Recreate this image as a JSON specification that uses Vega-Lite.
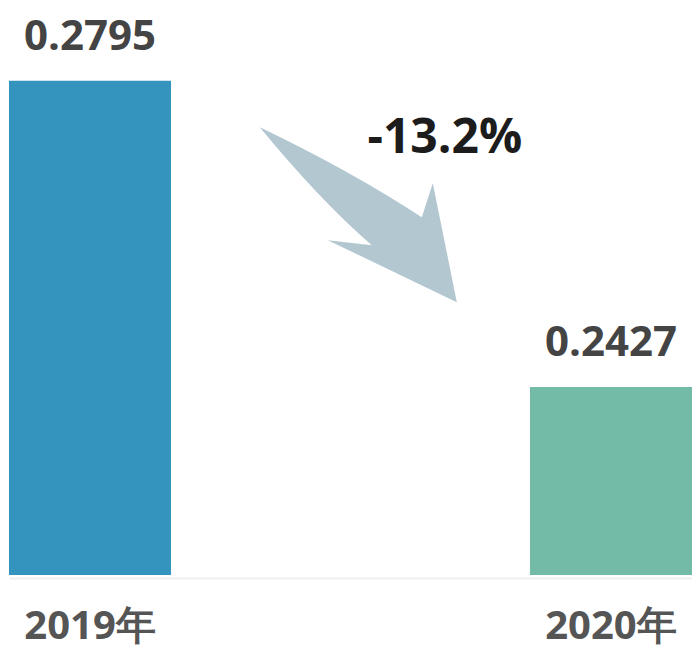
{
  "$schema": "https://vega.github.io/schema/vega-lite/v6.json",
  "width": 692,
  "height": 575,
  "padding": {"left": 0, "top": 0, "right": 0, "bottom": 72},
  "autosize": {"type": "none"},
  "background": "white",
  "config": {"view": {"stroke": null}, "font": "Open Sans"},
  "datasets": {
    "bars": [
      {"year": "2019年", "value": 0.2795},
      {"year": "2020年", "value": 0.2427}
    ],
    "change": [
      {"t": 0.515, "mid": 0.2634, "label": "-13.2%", "lt": 0.681, "ly": 0.2708}
    ]
  },
  "layer": [
    {
      "data": {"name": "bars"},
      "encoding": {
        "x": {
          "field": "year", "type": "nominal",
          "scale": {"range": [9, 692], "paddingInner": 0.689, "paddingOuter": 0},
          "axis": {
            "title": null, "ticks": false, "domain": true, "domainColor": "#efefef", "domainWidth": 2,
            "offset": 3, "labelPadding": 28, "labelFontSize": 40, "labelFontWeight": "bold",
            "labelColor": "#555555", "labelAngle": 0, "labelFont": "Open Sans", "labelBaseline": "top",
            "labelOverlap": false, "labelBound": false, "labelFlush": false
          }
        },
        "y": {
          "field": "value", "type": "quantitative",
          "scale": {"domain": [0.2201, 0.2892], "zero": false, "nice": false},
          "axis": null
        }
      },
      "layer": [
        {
          "mark": {"type": "bar", "clip": true},
          "encoding": {
            "color": {
              "field": "year", "type": "nominal",
              "scale": {"range": ["#3494be", "#73bba6"]},
              "legend": null
            }
          }
        },
        {
          "mark": {"type": "text", "dy": -31, "baseline": "alphabetic", "fontSize": 42, "fontWeight": "bold", "color": "#444444", "font": "Open Sans"},
          "encoding": {
            "text": {"field": "value", "type": "quantitative", "format": ".4f"}
          }
        }
      ]
    },
    {
      "data": {"name": "change"},
      "encoding": {
        "y": {"field": "mid", "type": "quantitative"}
      },
      "layer": [
        {
          "mark": {
            "type": "point", "filled": true, "opacity": 1, "color": "#b3c7d1", "size": 40000,
            "shape": "M -0.985 -0.875 Q -0.085 -0.445 0.635 0.025 L 0.745 -0.315 L 0.985 0.875 L -0.305 0.255 L 0.135 0.305 Q -0.385 -0.145 -0.985 -0.875 Z"
          },
          "encoding": {
            "x": {"field": "t", "type": "quantitative", "scale": {"domain": [0, 1], "range": [90, 611]}, "axis": null}
          }
        },
        {
          "mark": {"type": "text", "baseline": "alphabetic", "fontSize": 48, "fontWeight": "bold", "color": "#1c1c1c", "font": "Open Sans"},
          "encoding": {
            "x": {"field": "lt", "type": "quantitative", "scale": {"domain": [0, 1], "range": [90, 611]}, "axis": null},
            "y": {"field": "ly", "type": "quantitative"},
            "text": {"field": "label"}
          }
        }
      ]
    }
  ],
  "resolve": {"scale": {"x": "independent"}}
}
